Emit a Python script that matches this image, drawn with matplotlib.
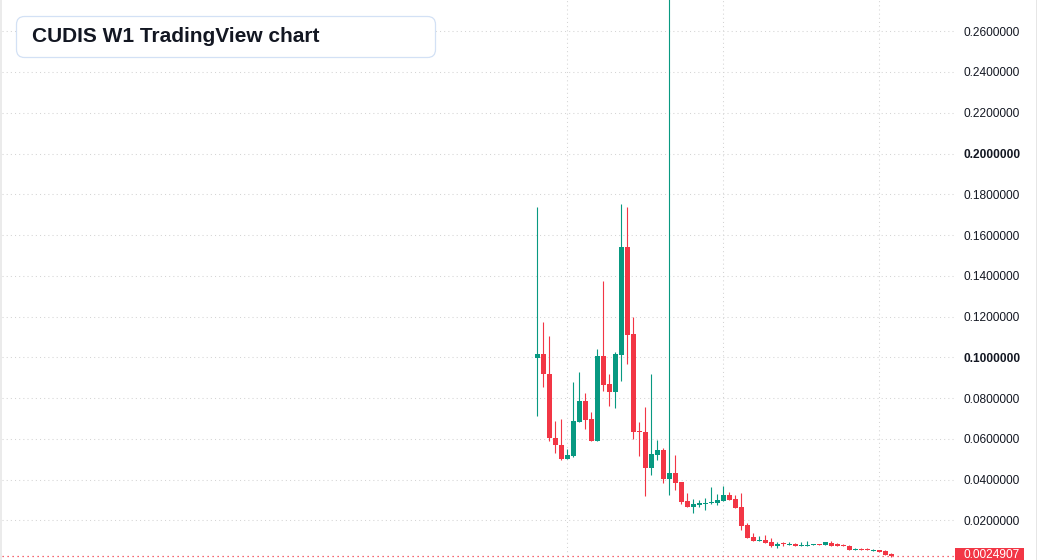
import matplotlib.pyplot as plt
from matplotlib.patches import FancyBboxPatch, Rectangle
from matplotlib.transforms import IdentityTransform

plt.rcParams['font.family'] = ['Liberation Sans', 'DejaVu Sans']

# weekly OHLC
opens = [
    0.0999, 0.1017, 0.0920, 0.0606, 0.0572, 0.0503, 0.0518, 0.0685, 0.0786, 0.0698,
    0.0591, 0.1007, 0.0870, 0.0832, 0.1013, 0.1542, 0.1115, 0.0635, 0.0635, 0.0459,
    0.0521, 0.0546, 0.0405, 0.0433, 0.0389, 0.0295, 0.0267, 0.0277, 0.0282, 0.0285,
    0.0287, 0.0295, 0.0325, 0.0305, 0.0266, 0.0177, 0.0119, 0.0099, 0.0104, 0.0094,
    0.0076, 0.0087, 0.0081, 0.0086, 0.0076, 0.0076, 0.0081, 0.0086, 0.0081, 0.0091,
    0.0085, 0.0080, 0.0076, 0.0057, 0.0061, 0.0061, 0.0052, 0.0057, 0.0052, 0.0037]
highs = [
    0.1740, 0.1174, 0.1107, 0.0690, 0.0699, 0.0552, 0.0879, 0.0928, 0.0825, 0.0732,
    0.1041, 0.1375, 0.0919, 0.1025, 0.1753, 0.1740, 0.1198, 0.0683, 0.0757, 0.0920,
    0.0596, 0.0557, 0.3000, 0.0521, 0.0389, 0.0335, 0.0305, 0.0300, 0.0310, 0.0364,
    0.0330, 0.0369, 0.0339, 0.0325, 0.0335, 0.0187, 0.0138, 0.0124, 0.0128, 0.0114,
    0.0094, 0.0094, 0.0094, 0.0089, 0.0094, 0.0099, 0.0086, 0.0086, 0.0096, 0.0101,
    0.0090, 0.0084, 0.0079, 0.0066, 0.0065, 0.0065, 0.0060, 0.0057, 0.0055, 0.0040]
lows = [
    0.0714, 0.0856, 0.0591, 0.0529, 0.0497, 0.0500, 0.0513, 0.0685, 0.0650, 0.0591,
    0.0591, 0.0837, 0.0763, 0.0753, 0.0886, 0.0969, 0.0601, 0.0518, 0.0321, 0.0424,
    0.0497, 0.0385, 0.0326, 0.0351, 0.0282, 0.0267, 0.0238, 0.0267, 0.0253, 0.0282,
    0.0277, 0.0295, 0.0302, 0.0262, 0.0154, 0.0115, 0.0101, 0.0099, 0.0089, 0.0071,
    0.0065, 0.0076, 0.0081, 0.0076, 0.0076, 0.0076, 0.0081, 0.0081, 0.0081, 0.0076,
    0.0073, 0.0073, 0.0057, 0.0057, 0.0057, 0.0057, 0.0052, 0.0047, 0.0032, 0.0022]
closes = [
    0.1017, 0.0920, 0.0606, 0.0572, 0.0503, 0.0521, 0.0688, 0.0786, 0.0694, 0.0591,
    0.1007, 0.0866, 0.0832, 0.1017, 0.1542, 0.1112, 0.0635, 0.0633, 0.0459, 0.0526,
    0.0546, 0.0405, 0.0433, 0.0385, 0.0292, 0.0267, 0.0282, 0.0287, 0.0285, 0.0292,
    0.0300, 0.0325, 0.0302, 0.0262, 0.0174, 0.0115, 0.0101, 0.0104, 0.0089, 0.0076,
    0.0084, 0.0083, 0.0086, 0.0076, 0.0081, 0.0081, 0.0086, 0.0081, 0.0096, 0.0076,
    0.0073, 0.0073, 0.0057, 0.0061, 0.0057, 0.0057, 0.0057, 0.0047, 0.0032, 0.0024907]

last_price = 0.0024907
last_label = "0.0024907"
ytick_values = [0.02, 0.04, 0.06, 0.08, 0.10, 0.12, 0.14, 0.16, 0.18, 0.20, 0.22, 0.24, 0.26]
ytick_labels = ["0.0200000", "0.0400000", "0.0600000", "0.0800000", "0.1000000",
                "0.1200000", "0.1400000", "0.1600000", "0.1800000", "0.2000000",
                "0.2200000", "0.2400000", "0.2600000"]
bold_labels = ["0.1000000", "0.2000000"]
vgrid_weeks = [5, 31, 57]
title = "CUDIS W1 TradingView chart"

UP = '#089981'
DOWN = '#F23645'
GRID = '#d4d4d4'
TEXT = '#131722'

W, H = 1037, 560
fig = plt.figure(figsize=(W / 100, H / 100), dpi=100)
fig.patch.set_facecolor('white')
ax = fig.add_axes([2 / W, 0, 953 / W, 1])

dots = (0, (1, 3))
for v in ytick_values:
    ax.axhline(v, color=GRID, lw=0.75, ls=dots, zorder=0)
for wk in vgrid_weeks:
    ax.axvline(wk, color=GRID, lw=0.75, ls=dots, zorder=0)

idx = list(range(len(opens)))
colors = [UP if c >= o else DOWN for o, c in zip(opens, closes)]
bottoms = [min(o, c) for o, c in zip(opens, closes)]
heights = [max(abs(c - o), 0.0005) for o, c in zip(opens, closes)]

ax.vlines(idx, lows, highs, colors=colors, lw=0.8, zorder=2)
ax.bar(idx, heights, bottom=bottoms, width=0.8, color=colors, lw=0, zorder=3)

ax.axhline(last_price, color=DOWN, lw=0.9, ls=dots, zorder=1)

ax.set_xlim(-89.2, 69.6)
ax.set_ylim(0.0006, 0.2753)
ax.set_xticks([])
ax.yaxis.tick_right()
ax.set_yticks(ytick_values, ytick_labels)
ax.tick_params(axis='y', length=0, pad=5.8, labelsize=8.6, labelcolor=TEXT)
for lbl in ax.get_yticklabels():
    if lbl.get_text() in bold_labels:
        lbl.set_fontweight('bold')
for s in ax.spines.values():
    s.set_visible(False)

px = IdentityTransform()
fig.add_artist(Rectangle((0, 0), 2, H, transform=px, color='#ebebeb', lw=0))
fig.add_artist(Rectangle((1036, 0), 1, H, transform=px, color='#e6e6e6', lw=0))

# current price tag
fig.add_artist(Rectangle((955, -4), 69, 15.7, transform=px, color=DOWN, lw=0))
fig.text(963, 5, last_label, transform=px, color='white', fontsize=8.6,
         va='center', ha='left')

# title box
fig.add_artist(FancyBboxPatch((16.5, H - 57.5), 419, 41, transform=px,
                              boxstyle="round,pad=0,rounding_size=8",
                              fc='white', ec='#d3e1f5', lw=0.9))
fig.text(32, H - 37, title, transform=px, fontsize=15, fontweight='bold',
         color=TEXT, va='center', ha='left')

fig.savefig('out.png', dpi=100)
